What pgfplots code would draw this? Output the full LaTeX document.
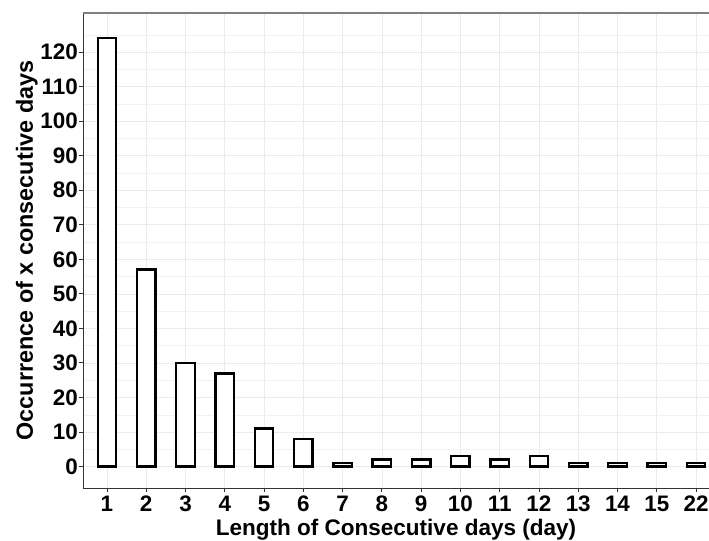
\documentclass[border=0pt]{standalone}
\usepackage{fontspec}
\setmainfont{Liberation Sans}
\usepackage{pgfplots}
\pgfplotsset{compat=1.18}
\begin{document}
\begin{tikzpicture}
\begin{axis}[
  scale only axis, width=626bp, height=475bp,
  xmin=0.39, xmax=16.33, ymin=-6.2, ymax=131.3,
  xtick={1,...,16}, xticklabels={1,2,3,4,5,6,7,8,9,10,11,12,13,14,15,22},
  ytick={0,10,...,120}, minor ytick={5,15,...,125},
  grid=both,
  major grid style={color=black!8, line width=0.7bp},
  minor grid style={color=black!5, line width=0.5bp},
  axis x line*=bottom, axis y line*=left,
  axis line style={black!80, line width=0.9bp},
  tick align=outside, major tick length=4bp, minor tick length=0pt,
  tick style={black!80, line width=0.9bp},
  /pgf/number format/assume math mode=true,
  ticklabel style={font=\bfseries\fontsize{22.5}{22}\selectfont, text=black, inner sep=0pt},
  xticklabel style={anchor=north, text height=15.8bp, text depth=0bp, yshift=-3bp},
  yticklabel style={anchor=east, xshift=-1bp},
  xlabel={Length of Consecutive days (day)},
  ylabel={Occurrence of x consecutive days},
  every axis x label/.style={at={(axis description cs:0.5,0)}, yshift=-47bp, anchor=base, font=\bfseries\fontsize{22.6}{24}\selectfont},
  every axis y label/.style={at={(axis description cs:0,0.5)}, xshift=-50bp, rotate=90, anchor=base, font=\bfseries\fontsize{23.5}{24}\selectfont},
]
\addplot[ybar, bar width=0.47, draw=black, fill=white, line width=2.4bp]
  coordinates {(1,124) (2,57) (3,30) (4,27) (5,11) (6,8) (7,1) (8,2) (9,2) (10,3) (11,2) (12,3) (13,1) (14,1) (15,1) (16,1)};
\draw[black!50, line width=1.3bp] (rel axis cs:0,1) -- (rel axis cs:1,1);
\coordinate (SW) at (rel axis cs:0,0);
\coordinate (NE) at (rel axis cs:1,1);
\end{axis}
\pgfresetboundingbox
\path ([shift={(-83bp,-53bp)}]SW) rectangle ([shift={(0bp,13bp)}]NE);
\end{tikzpicture}
\end{document}
